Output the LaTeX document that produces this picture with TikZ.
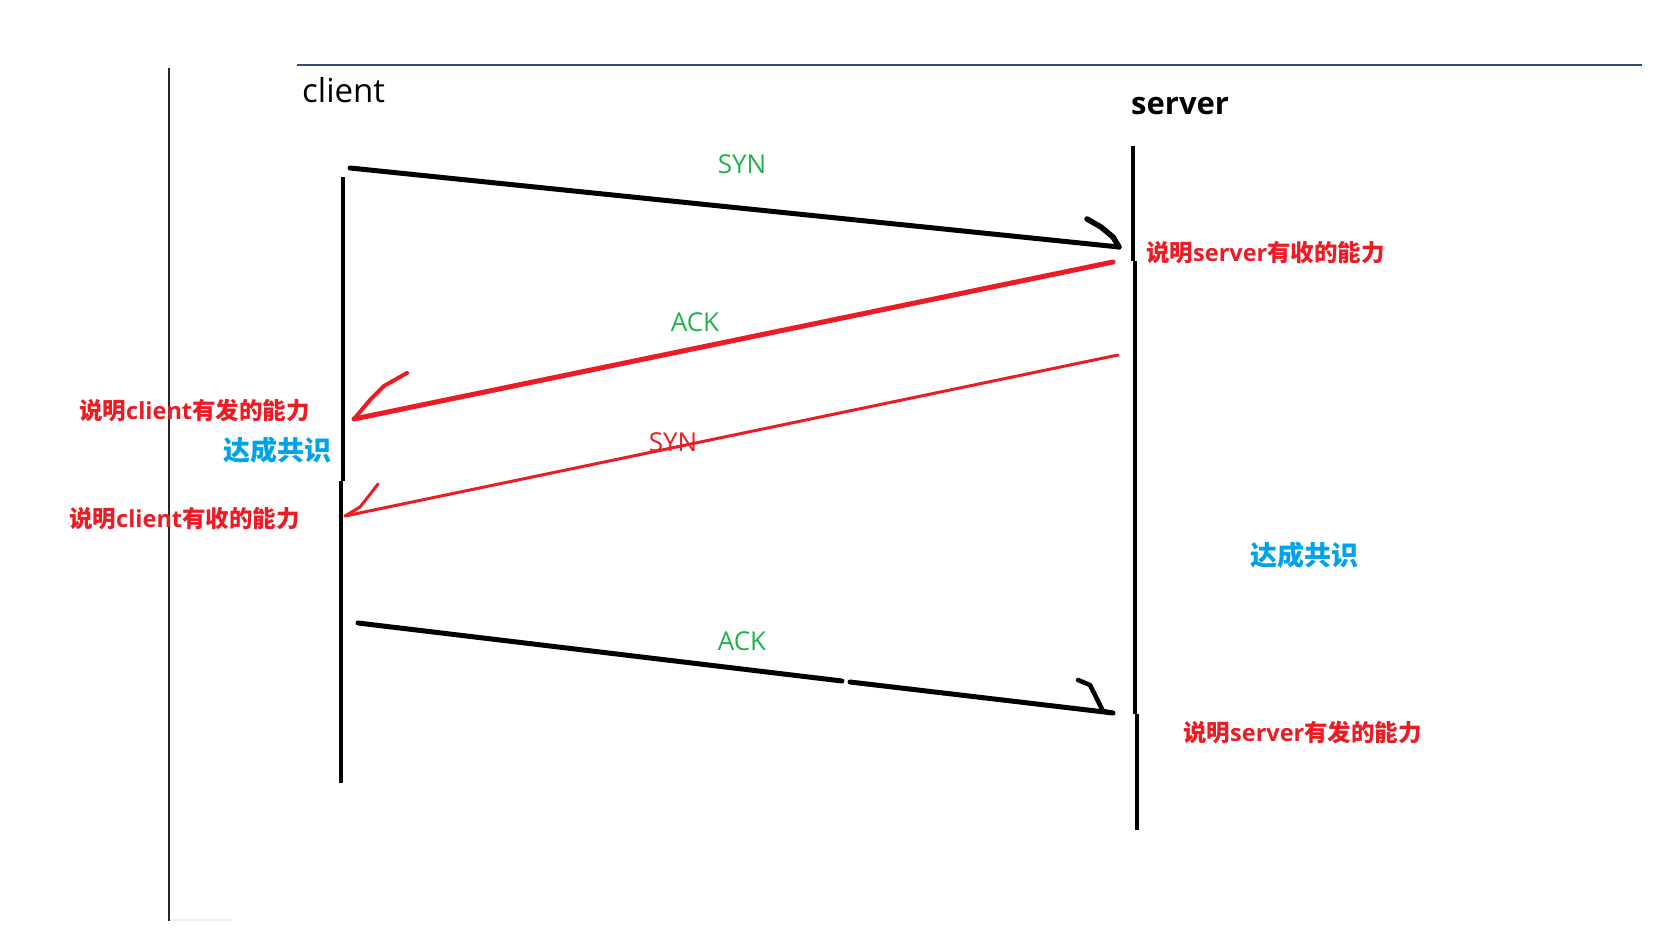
\documentclass[tikz,border=0pt]{standalone}
\usepackage{fontspec}
\setmainfont{Open Sans}
\newfontfamily\cjk{Noto Sans CJK SC}
\definecolor{pred}{HTML}{ED1C24}
\definecolor{pgreen}{HTML}{22B14C}
\definecolor{pblue}{HTML}{00A2E8}
\definecolor{rulecol}{HTML}{2E4F6F}
\tikzset{
  lifeline/.style={line width=4pt,black},
  blackmsg/.style={line width=5pt,black,line cap=round},
  blackhead/.style={line width=5.5pt,black,line cap=round,line join=round},
  redmsg/.style={line width=5pt,pred,line cap=round},
  redthin/.style={line width=3pt,pred,line cap=round},
  redhead/.style={line width=4pt,pred,line cap=round,line join=round},
  greenlab/.style={inner sep=0pt,text=pgreen,font=\fontsize{26pt}{30pt}\selectfont},
  redlab/.style={inner sep=0pt,text=pred,anchor=west,font=\fontsize{23.5pt}{28pt}\selectfont\bfseries},
  bluelab/.style={inner sep=0pt,text=pblue,anchor=west,font=\fontsize{27pt}{32pt}\selectfont\bfseries\cjk},
  endlab/.style={inner sep=0pt,anchor=base west,text=black}
}
\begin{document}
\begin{tikzpicture}[x=1pt,y=-1pt]
\useasboundingbox (0,0) rectangle (1679,936);
\fill[white] (0,0) rectangle (1679,936);

% frame lines
\coordinate (r1) at (297,65);
\coordinate (r2) at (1642,65);
\draw[rulecol,line width=1.5pt] (r1) -- (r2);
\coordinate (v1) at (169,68);
\coordinate (v2) at (169,921);
\draw[black!85,line width=1.2pt] (v1) -- (v2);
\coordinate (g1) at (170,920);
\coordinate (g2) at (232,920);
\draw[black!6,line width=2pt] (g1) -- (g2);

% end labels
\node[endlab,font=\fontsize{33pt}{38pt}\selectfont] (client) at (302,103) {client};
\node[endlab,font=\fontsize{31pt}{36pt}\selectfont\bfseries] (server) at (1131,115) {server};

% lifelines
\coordinate (c1) at (343,177);
\coordinate (c2) at (343,481);
\coordinate (c3) at (341,481);
\coordinate (c4) at (341,783);
\draw[lifeline] (c1) -- (c2);
\draw[lifeline] (c3) -- (c4);
\coordinate (s1) at (1133,146);
\coordinate (s2) at (1133,261);
\coordinate (s3) at (1135,261);
\coordinate (s4) at (1135,714);
\coordinate (s5) at (1137,714);
\coordinate (s6) at (1137,830);
\draw[lifeline] (s1) -- (s2);
\draw[lifeline] (s3) -- (s4);
\draw[lifeline] (s5) -- (s6);

% message 1: SYN (client -> server)
\coordinate (m1a) at (350,168);
\coordinate (m1b) at (1119,247);
\draw[blackmsg] (m1a) -- (m1b);
\coordinate (h1a) at (1087,219);
\coordinate (h1b) at (1101,227);
\coordinate (h1c) at (1113,237);
\draw[blackhead] (h1a) -- (h1b) -- (h1c) -- (m1b);

% message 2: ACK (server -> client), red
\coordinate (m2a) at (1113,262);
\coordinate (m2b) at (354,419);
\draw[redmsg] (m2a) -- (m2b);
\coordinate (h2a) at (370,400);
\coordinate (h2b) at (384,386);
\coordinate (h2c) at (407,373);
\draw[redhead] (m2b) -- (h2a) -- (h2b) -- (h2c);

% message 3: SYN (server -> client), red thin
\coordinate (m3a) at (1118,355);
\coordinate (m3b) at (345,516);
\draw[redthin] (m3a) -- (m3b);
\coordinate (h3a) at (360,507);
\coordinate (h3b) at (368,497);
\coordinate (h3c) at (378,484);
\draw[redthin,line join=round] (m3b) -- (h3a) -- (h3b) -- (h3c);

% message 4: ACK (client -> server)
\coordinate (m4a) at (358,623);
\coordinate (m4g1) at (842,681);
\coordinate (m4g2) at (850,682);
\coordinate (m4b) at (1113,713);
\draw[blackmsg] (m4a) -- (m4g1);
\draw[blackmsg] (m4g2) -- (m4b);
\coordinate (h4a) at (1078,680);
\coordinate (h4b) at (1090,685);
\coordinate (h4c) at (1103,711);
\draw[blackhead,line width=4.5pt] (h4a) -- (h4b) -- (h4c) -- (m4b);

% message labels
\node[greenlab] (lsyn1) at (742,164) {SYN};
\node[greenlab] (lack1) at (695,322) {ACK};
\node[greenlab,text=pred] (lsyn2) at (673,442) {SYN};
\node[greenlab] (lack2) at (742,641) {ACK};

% notes
\node[redlab] (n1) at (1146,253) {{\cjk 说明}server{\cjk 有收的能力}};
\node[redlab] (n2) at (79,411) {{\cjk 说明}client{\cjk 有发的能力}};
\node[bluelab] (b1) at (223,450) {达成共识};
\node[redlab] (n3) at (69,519) {{\cjk 说明}client{\cjk 有收的能力}};
\node[bluelab] (b2) at (1250,555) {达成共识};
\node[redlab] (n4) at (1183,733) {{\cjk 说明}server{\cjk 有发的能力}};
\end{tikzpicture}
\end{document}
